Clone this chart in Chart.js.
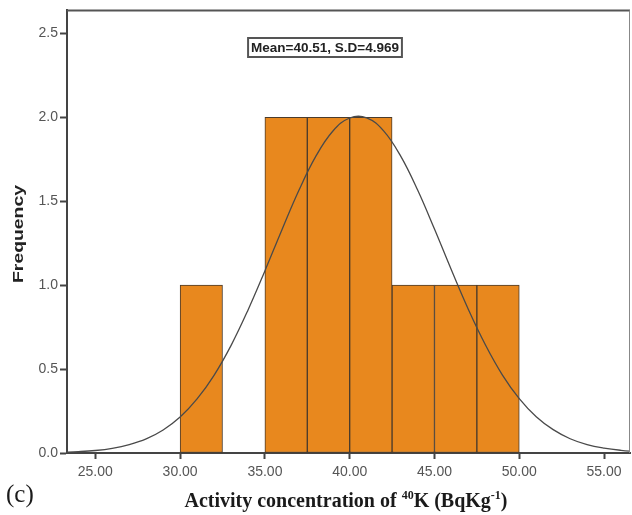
<!DOCTYPE html>
<html>
<head>
<meta charset="utf-8">
<script src="https://cdn.jsdelivr.net/npm/chart.js@4/dist/chart.umd.min.js"></script>
<style>
  html, body { margin: 0; padding: 0; background: #fff; }
  #wrap { width: 632px; height: 515px; }
</style>
</head>
<body>
<div id="wrap"><canvas id="histChart" width="632" height="515"></canvas></div>
<script>
// Histogram bins (left edge of each bar, width 2.5)
const binStart = [30, 35, 37.5, 40, 42.5, 45, 47.5];
const binCount = [1, 2, 2, 2, 1, 1, 1];
const binWidth = 2.5;

// Normal curve (Mean=40.51, S.D=4.969)
const curveX = [23, 24, 25, 26, 27, 28, 29, 30, 31, 32, 33, 34, 35, 36, 37, 38, 39, 40,
  41, 42, 43, 44, 45, 46, 47, 48, 49, 50, 51, 52, 53, 54, 55, 56, 57];
const curveY = [0.004, 0.008, 0.015, 0.028, 0.050, 0.084, 0.137, 0.214, 0.322, 0.463, 0.640,
  0.851, 1.085, 1.329, 1.564, 1.767, 1.917, 1.996, 1.997, 1.919, 1.770, 1.568, 1.334, 1.090,
  0.855, 0.645, 0.466, 0.324, 0.216, 0.139, 0.085, 0.050, 0.029, 0.016, 0.008];

const xTicks = [25, 30, 35, 40, 45, 50, 55];
const yTicks = [0, 0.5, 1.0, 1.5, 2.0, 2.5];
const statsLabel = 'Mean=40.51, S.D=4.969';
const yTitle = 'Frequency';

const barData = binStart.map((s, i) => ({ x: s + binWidth / 2, y: binCount[i] }));
const lineData = curveX.map((x, i) => ({ x: x, y: curveY[i] }));

// frame, stats box, axis titles, panel letter
const extras = {
  id: 'extras',
  afterDraw(chart) {
    const ctx = chart.ctx;
    const a = chart.chartArea;
    ctx.save();
    // top + right frame
    ctx.strokeStyle = '#555';
    ctx.lineWidth = 2;
    ctx.beginPath();
    ctx.moveTo(a.left, a.top);
    ctx.lineTo(a.right, a.top);
    ctx.stroke();
    ctx.strokeStyle = '#888';
    ctx.lineWidth = 1;
    ctx.beginPath();
    ctx.moveTo(a.right - 0.5, a.top);
    ctx.lineTo(a.right - 0.5, a.bottom);
    ctx.stroke();

    // stats box
    ctx.font = 'bold 13.5px "Liberation Sans", Arial, sans-serif';
    const tw = ctx.measureText(statsLabel).width;
    const cx = 325, cy = 47.5;
    ctx.fillStyle = '#fff';
    ctx.fillRect(cx - tw / 2 - 3, cy - 9.5, tw + 6, 19);
    ctx.strokeStyle = '#555';
    ctx.lineWidth = 2;
    ctx.strokeRect(cx - tw / 2 - 3, cy - 9.5, tw + 6, 19);
    ctx.fillStyle = '#222';
    ctx.textAlign = 'center';
    ctx.textBaseline = 'middle';
    ctx.fillText(statsLabel, cx, cy + 0.5);

    // y axis title (stretched along its length like the source)
    ctx.font = 'bold 14px "Liberation Sans", Arial, sans-serif';
    const yw = ctx.measureText(yTitle).width;
    ctx.save();
    ctx.translate(18, 234);
    ctx.rotate(-Math.PI / 2);
    ctx.scale(98 / yw, 1);
    ctx.fillStyle = '#222';
    ctx.textAlign = 'center';
    ctx.textBaseline = 'alphabetic';
    ctx.fillText(yTitle, 0, 5);
    ctx.restore();

    // x axis title
    const big = 'bold 20px "Liberation Serif", "Times New Roman", serif';
    const small = 'bold 12px "Liberation Serif", "Times New Roman", serif';
    const parts = [
      { t: 'Activity concentration of ', f: big, dy: 0 },
      { t: '40', f: small, dy: -8 },
      { t: 'K (BqKg', f: big, dy: 0 },
      { t: '-1', f: small, dy: -8 },
      { t: ')', f: big, dy: 0 }
    ];
    let total = 0;
    parts.forEach(p => { ctx.font = p.f; p.w = ctx.measureText(p.t).width; total += p.w; });
    let x = 346 - total / 2;
    const base = 507;
    ctx.textAlign = 'left';
    ctx.textBaseline = 'alphabetic';
    ctx.fillStyle = '#1a1a1a';
    parts.forEach(p => {
      ctx.font = p.f;
      ctx.fillText(p.t, x, base + p.dy);
      x += p.w;
    });

    // panel letter
    ctx.font = '25px "Liberation Serif", "Times New Roman", serif';
    ctx.fillText('(c)', 6, 502);
    ctx.restore();
  }
};

new Chart(document.getElementById('histChart'), {
  type: 'bar',
  data: {
    datasets: [
      {
        type: 'line',
        data: lineData,
        borderColor: '#4a4a4a',
        borderWidth: 1.3,
        pointRadius: 0,
        tension: 0.4,
        fill: false,
        order: 0
      },
      {
        type: 'bar',
        data: barData,
        backgroundColor: '#E8881E',
        borderColor: '#4a3b2c',
        borderWidth: 1,
        borderSkipped: false,
        categoryPercentage: 1,
        barPercentage: 1,
        order: 1
      }
    ]
  },
  options: {
    responsive: false,
    animation: false,
    layout: { padding: { top: 9, right: 2, left: 0, bottom: 0 } },
    plugins: { legend: { display: false }, tooltip: { enabled: false } },
    scales: {
      x: {
        type: 'linear',
        min: 23.33,
        max: 56.53,
        offset: false,
        afterBuildTicks: s => { s.ticks = xTicks.map(v => ({ value: v })); },
        afterFit: s => { s.height = 62; },
        grid: { offset: false, drawOnChartArea: false, tickLength: 6, tickColor: '#444', tickWidth: 2 },
        border: { color: '#444', width: 2 },
        ticks: {
          color: '#555',
          font: { family: '"Liberation Sans", Arial, sans-serif', size: 14 },
          padding: 5,
          maxRotation: 0,
          callback: v => Number(v).toFixed(2)
        }
      },
      y: {
        min: 0,
        max: 2.637,
        afterBuildTicks: s => { s.ticks = yTicks.map(v => ({ value: v })); },
        afterFit: s => { s.width = 67; },
        grid: { drawOnChartArea: false, tickLength: 7, tickColor: '#444', tickWidth: 2 },
        border: { color: '#444', width: 2 },
        ticks: {
          color: '#555',
          font: { family: '"Liberation Sans", Arial, sans-serif', size: 14 },
          padding: 2,
          callback: v => Number(v).toFixed(1)
        }
      }
    }
  },
  plugins: [extras]
});
</script>
</body>
</html>
